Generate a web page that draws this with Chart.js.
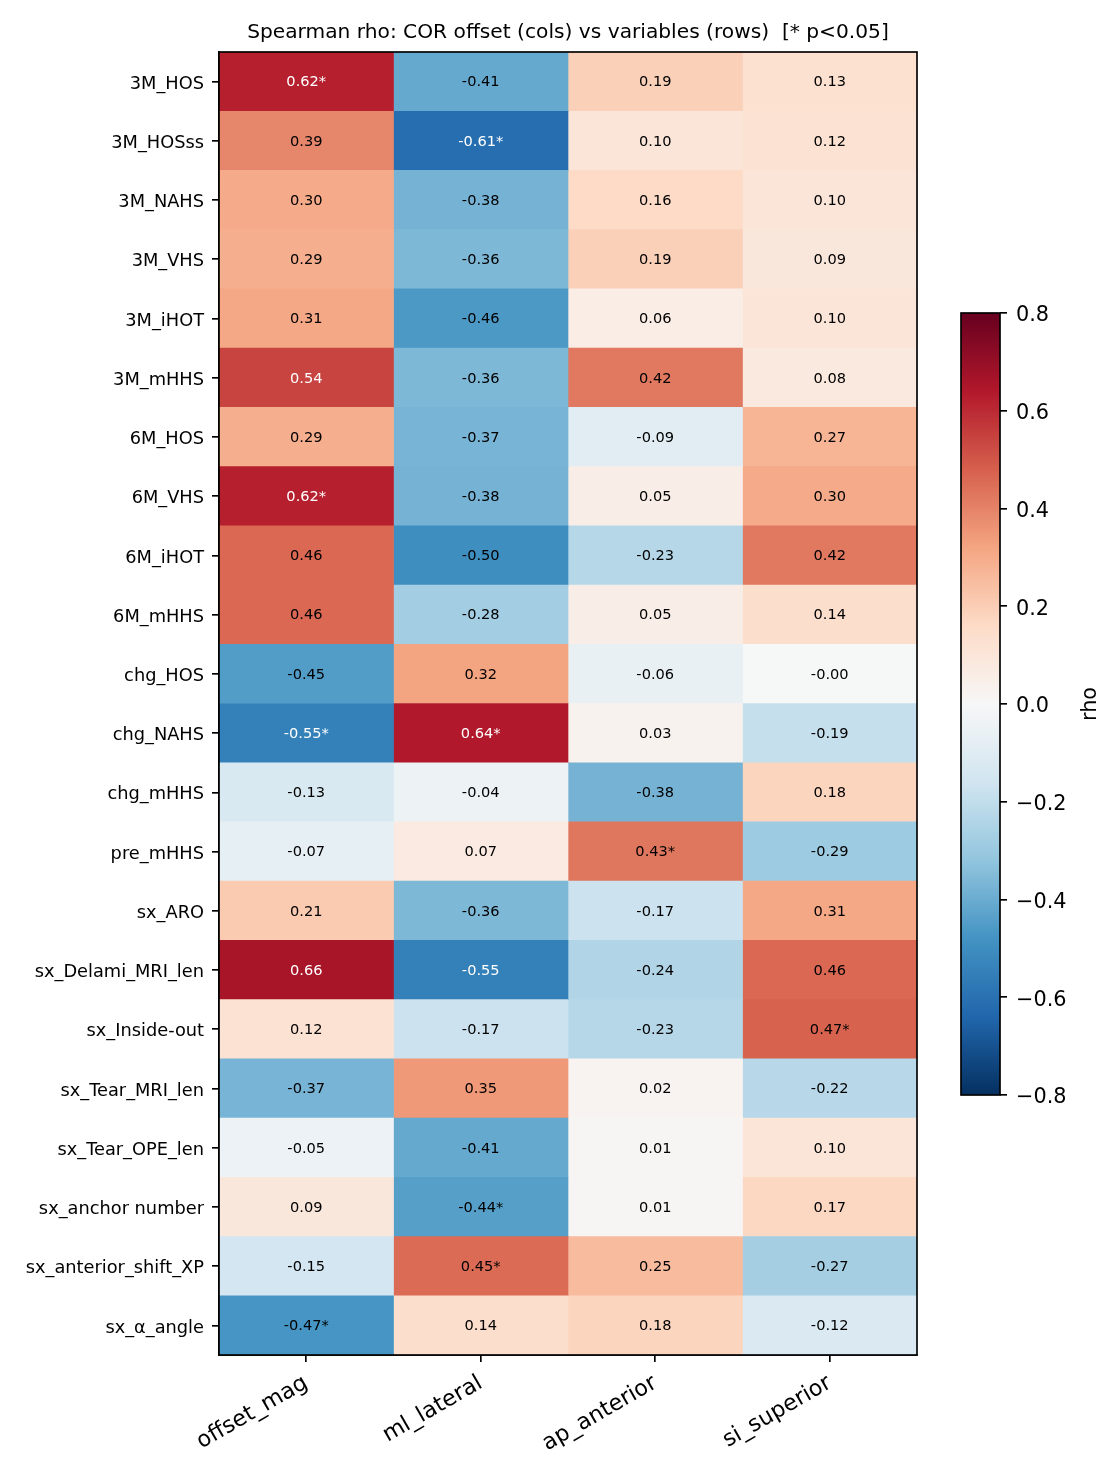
<!DOCTYPE html>
<html>
<head>
<meta charset="utf-8">
<title>Spearman rho heatmap</title>
<script src="https://cdn.jsdelivr.net/npm/chart.js@4.4.1/dist/chart.umd.min.js"></script>
<style>
  html, body { margin: 0; padding: 0; background: #ffffff; }
  #wrap { position: relative; width: 1120px; height: 1478px; }
  #heat { position: absolute; left: 0; top: 0; }
  #cbar { position: absolute; left: 940px; top: 0; }
</style>
</head>
<body>
<div id="wrap">
  <canvas id="heat" width="940" height="1478"></canvas>
  <canvas id="cbar" width="180" height="1478"></canvas>
</div>
<script>
// rows (variables) and columns (COR offset components)
const rowLabels = ['3M_HOS', '3M_HOSss', '3M_NAHS', '3M_VHS', '3M_iHOT', '3M_mHHS',
    '6M_HOS', '6M_VHS', '6M_iHOT', '6M_mHHS', 'chg_HOS', 'chg_NAHS', 'chg_mHHS',
    'pre_mHHS', 'sx_ARO', 'sx_Delami_MRI_len', 'sx_Inside-out', 'sx_Tear_MRI_len',
    'sx_Tear_OPE_len', 'sx_anchor number', 'sx_anterior_shift_XP', 'sx_α_angle'];
const colLabels = ['offset_mag', 'ml_lateral', 'ap_anterior', 'si_superior'];

// rho values per column, in row order
const offsetMag = [0.62, 0.39, 0.30, 0.29, 0.31, 0.54, 0.29, 0.62, 0.46, 0.46, -0.45,
    -0.55, -0.13, -0.07, 0.21, 0.66, 0.12, -0.37, -0.05, 0.09, -0.15, -0.47];
const mlLateral = [-0.41, -0.61, -0.38, -0.36, -0.46, -0.36, -0.37, -0.38, -0.50, -0.28, 0.32,
    0.64, -0.04, 0.07, -0.36, -0.55, -0.17, 0.35, -0.41, -0.44, 0.45, 0.14];
const apAnterior = [0.19, 0.10, 0.16, 0.19, 0.06, 0.42, -0.09, 0.05, -0.23, 0.05, -0.06,
    0.03, -0.38, 0.43, -0.17, -0.24, -0.23, 0.02, 0.01, 0.01, 0.25, 0.18];
const siSuperior = [0.13, 0.12, 0.10, 0.09, 0.10, 0.08, 0.27, 0.30, 0.42, 0.14, -0.004,
    -0.19, 0.18, -0.29, 0.31, 0.46, 0.47, -0.22, 0.10, 0.17, -0.27, -0.12];

// p<0.05 flags, same order
const offsetMagSig = [1,0,0,0,0,0,0,1,0,0,0,1,0,0,0,0,0,0,0,0,0,1];
const mlLateralSig = [0,1,0,0,0,0,0,0,0,0,0,1,0,0,0,0,0,0,0,1,1,0];
const apAnteriorSig = [0,0,0,0,0,0,0,0,0,0,0,0,0,1,0,0,0,0,0,0,0,0];
const siSuperiorSig = [0,0,0,0,0,0,0,0,0,0,0,0,0,0,0,0,1,0,0,0,0,0];

const colValues = [offsetMag, mlLateral, apAnterior, siSuperior];
const colSig = [offsetMagSig, mlLateralSig, apAnteriorSig, siSuperiorSig];

const VMIN = -0.8, VMAX = 0.8;
const cbarTicks = [-0.8, -0.6, -0.4, -0.2, 0.0, 0.2, 0.4, 0.6, 0.8];

const FONT = "'DejaVu Sans', 'Liberation Sans', sans-serif";

// RdBu_r stops (matplotlib / ColorBrewer)
const RDBU_R = ['#053061', '#2166ac', '#4393c3', '#92c5de', '#d1e5f0', '#f7f7f7',
    '#fddbc7', '#f4a582', '#d6604d', '#b2182b', '#67001f'];

function hexToRgb(h) {
    return [parseInt(h.substr(1, 2), 16), parseInt(h.substr(3, 2), 16), parseInt(h.substr(5, 2), 16)];
}
const stops = RDBU_R.map(hexToRgb);

function cmap(v) {
    let t = (v - VMIN) / (VMAX - VMIN);
    t = Math.max(0, Math.min(1, t));
    // quantise like matplotlib's 256-level lut
    t = Math.min(255, Math.floor(t * 256)) / 255;
    const pos = t * (stops.length - 1);
    const i = Math.min(stops.length - 2, Math.floor(pos));
    const f = pos - i;
    const a = stops[i], b = stops[i + 1];
    const c = a.map((x, k) => Math.round(x + (b[k] - x) * f));
    return 'rgb(' + c.join(',') + ')';
}

// title, full frame and cell annotations
const heatDecor = {
    id: 'heatDecor',
    afterDatasetsDraw(chart) {
        const ctx = chart.ctx;
        ctx.save();
        ctx.font = '14.6px ' + FONT;
        ctx.textAlign = 'center';
        ctx.textBaseline = 'middle';
        chart.data.datasets.forEach((ds, di) => {
            const meta = chart.getDatasetMeta(di);
            meta.data.forEach((el, ri) => {
                const v = colValues[di][ri];
                const txt = v.toFixed(2) + (colSig[di][ri] ? '*' : '');
                ctx.fillStyle = Math.abs(v) > 0.5 ? '#ffffff' : '#000000';
                ctx.fillText(txt, (el.x + el.base) / 2, el.y + 1);
            });
        });
        ctx.restore();
    },
    afterDraw(chart) {
        const ctx = chart.ctx;
        const a = chart.chartArea;
        ctx.save();
        ctx.strokeStyle = '#000000';
        ctx.lineWidth = 1.67;
        ctx.strokeRect(a.left, a.top, a.right - a.left, a.bottom - a.top);
        ctx.fillStyle = '#000000';
        ctx.font = '20.2px ' + FONT;
        ctx.textAlign = 'center';
        ctx.textBaseline = 'middle';
        ctx.fillText('Spearman rho: COR offset (cols) vs variables (rows)  [* p<0.05]',
            (a.left + a.right) / 2, 33);
        ctx.restore();
    }
};

new Chart(document.getElementById('heat').getContext('2d'), {
    type: 'bar',
    data: {
        labels: rowLabels,
        datasets: colLabels.map((name, c) => ({
            label: name,
            data: rowLabels.map(() => [c, c + 1]),
            backgroundColor: colValues[c].map(cmap),
            borderWidth: 0,
            grouped: false,
            barPercentage: 1.0,
            categoryPercentage: 1.0
        }))
    },
    options: {
        indexAxis: 'y',
        responsive: false,
        animation: false,
        devicePixelRatio: 1,
        layout: { padding: { top: 52, right: 23, left: 0, bottom: 0 } },
        plugins: {
            legend: { display: false },
            tooltip: { enabled: false },
            title: { display: false }
        },
        scales: {
            x: {
                type: 'linear',
                min: 0,
                max: 4,
                afterBuildTicks: (scale) => {
                    scale.ticks = colLabels.map((_, i) => ({ value: i + 0.5 }));
                },
                afterFit: (scale) => { scale.height = 123; },
                ticks: {
                    autoSkip: false,
                    maxRotation: 30,
                    minRotation: 30,
                    padding: 8,
                    color: '#000000',
                    font: { family: FONT, size: 22.4 },
                    callback: (value) => colLabels[Math.round(value - 0.5)]
                },
                grid: {
                    display: true,
                    drawOnChartArea: false,
                    drawTicks: true,
                    tickLength: 7,
                    color: '#000000',
                    lineWidth: 1.67
                },
                border: { display: true, color: '#000000', width: 1.67 }
            },
            y: {
                type: 'category',
                offset: true,
                afterFit: (scale) => { scale.width = 219; },
                ticks: {
                    autoSkip: false,
                    padding: 8,
                    labelOffset: 2.5,
                    color: '#000000',
                    font: { family: FONT, size: 17.8 }
                },
                grid: {
                    display: true,
                    offset: false,
                    drawOnChartArea: false,
                    drawTicks: true,
                    tickLength: 7,
                    color: '#000000',
                    lineWidth: 1.67
                },
                border: { display: true, color: '#000000', width: 1.67 }
            }
        }
    },
    plugins: [heatDecor]
});

// colour bar
const cbarDecor = {
    id: 'cbarDecor',
    afterDraw(chart) {
        const ctx = chart.ctx;
        const a = chart.chartArea;
        ctx.save();
        ctx.strokeStyle = '#000000';
        ctx.lineWidth = 1.67;
        ctx.strokeRect(a.left, a.top, a.right - a.left, a.bottom - a.top);
        ctx.translate(151, (a.top + a.bottom) / 2);
        ctx.rotate(-Math.PI / 2);
        ctx.fillStyle = '#000000';
        ctx.font = '20.8px ' + FONT;
        ctx.textAlign = 'center';
        ctx.textBaseline = 'middle';
        ctx.fillText('rho', 0, 0);
        ctx.restore();
    }
};

function barGradient(context) {
    const chart = context.chart;
    const a = chart.chartArea;
    if (!a) return null;
    const g = chart.ctx.createLinearGradient(0, a.bottom, 0, a.top);
    RDBU_R.forEach((c, i) => g.addColorStop(i / (RDBU_R.length - 1), c));
    return g;
}

new Chart(document.getElementById('cbar').getContext('2d'), {
    type: 'bar',
    data: {
        labels: ['rho'],
        datasets: [{
            data: [[VMIN, VMAX]],
            backgroundColor: barGradient,
            borderWidth: 0,
            barPercentage: 1.0,
            categoryPercentage: 1.0
        }]
    },
    options: {
        responsive: false,
        animation: false,
        devicePixelRatio: 1,
        layout: { padding: { top: 313, bottom: 383, left: 21, right: 0 } },
        plugins: {
            legend: { display: false },
            tooltip: { enabled: false }
        },
        scales: {
            x: { display: false },
            y: {
                position: 'right',
                min: VMIN,
                max: VMAX,
                afterBuildTicks: (scale) => {
                    scale.ticks = cbarTicks.map(v => ({ value: v }));
                },
                afterFit: (scale) => { scale.width = 120; },
                ticks: {
                    padding: 9,
                    labelOffset: 3,
                    color: '#000000',
                    font: { family: FONT, size: 20.8 },
                    callback: (value) => value.toFixed(1).replace('-', '\u2212')
                },
                grid: {
                    display: true,
                    drawOnChartArea: false,
                    drawTicks: true,
                    tickLength: 7,
                    color: '#000000',
                    lineWidth: 1.67
                },
                border: { display: false }
            }
        }
    },
    plugins: [cbarDecor]
});
</script>
</body>
</html>
